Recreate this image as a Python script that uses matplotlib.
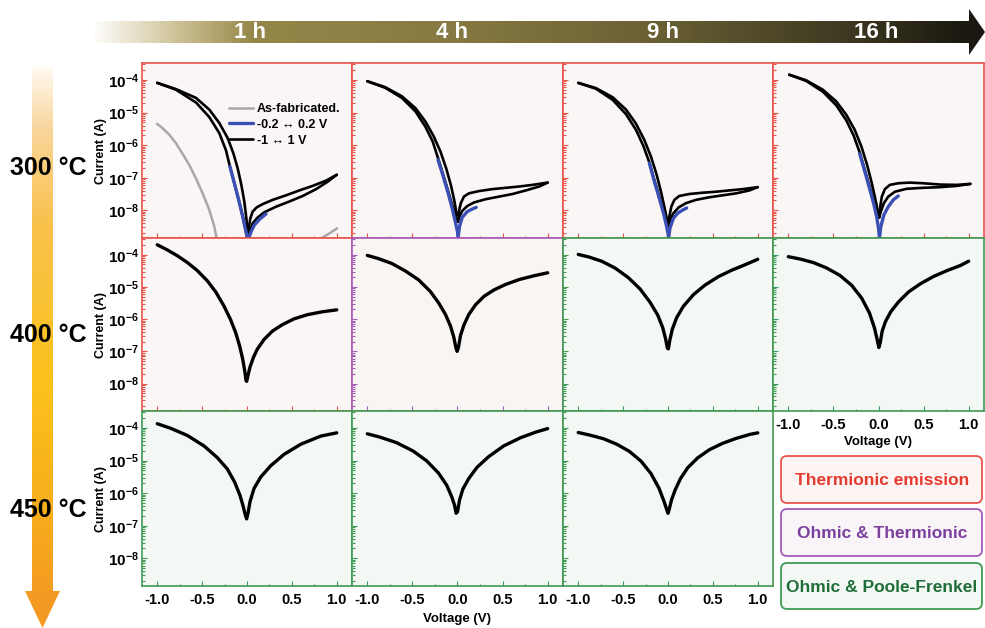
import numpy as np
import matplotlib
matplotlib.use("Agg")
import matplotlib.pyplot as plt
from matplotlib.colors import LinearSegmentedColormap
from matplotlib.patches import FancyBboxPatch, Polygon
from matplotlib.ticker import FixedLocator, FuncFormatter, LogLocator, NullFormatter

plt.rcParams['font.family'] = ['Liberation Sans', 'DejaVu Sans']
plt.rcParams['font.weight'] = 'bold'
plt.rcParams['mathtext.fontset'] = 'custom'
plt.rcParams['mathtext.bf'] = 'Liberation Sans:bold'
plt.rcParams['mathtext.rm'] = 'Liberation Sans:bold'
plt.rcParams['axes.unicode_minus'] = False

# ---------------- labels ----------------
times = ['1 h', '4 h', '9 h', '16 h']
temps = ['300 °C', '400 °C', '450 °C']
mechanisms = ['Thermionic emission', 'Ohmic & Thermionic', 'Ohmic & Poole-Frenkel']
# mechanism class of each panel: 0 thermionic, 1 ohmic&thermionic, 2 ohmic&poole-frenkel, -1 none
panel_class = [[0, 0, 0, 0],
               [0, 1, 2, 2],
               [2, 2, 2, -1]]
xticks = [-1.0, -0.5, 0.0, 0.5, 1.0]
xticklabels = ['-1.0', '-0.5', '0.0', '0.5', '1.0']
ydecades = [-8, -7, -6, -5, -4]

# ---------------- data: voltage (V) and log10(current / A) ----------------
# 300 C, 1 h
r1c1_outer_V = [-1.0, -0.792, -0.569, -0.42, -0.309, -0.216, -0.152, -0.104, -0.063, -0.030, -0.007, 0.007, 0.015]
r1c1_outer_L = [-4.09, -4.28, -4.55, -4.91, -5.32, -5.78, -6.25, -6.71, -7.22, -7.73, -8.25, -8.71, -8.86]
r1c1_inner_V = [-1.0, -0.792, -0.569, -0.42, -0.309, -0.234, -0.190, -0.141, -0.093, -0.048, -0.011, 0.004]
r1c1_inner_L = [-4.09, -4.30, -4.69, -5.14, -5.63, -6.16, -6.66, -7.17, -7.68, -8.19, -8.66, -8.86]
r1c1_up_V = [0.011, 0.022, 0.037, 0.063, 0.108, 0.175, 0.286, 0.435, 0.584, 0.732, 0.881, 1.0]
r1c1_up_L = [-8.81, -8.50, -8.25, -8.04, -7.91, -7.81, -7.68, -7.54, -7.39, -7.25, -7.09, -6.91]
r1c1_lo_V = [0.019, 0.033, 0.063, 0.119, 0.193, 0.323, 0.472, 0.621, 0.770, 0.9, 1.0]
r1c1_lo_L = [-8.81, -8.66, -8.40, -8.22, -8.06, -7.89, -7.73, -7.56, -7.35, -7.12, -6.91]
r1c1_bneg_V = [-0.190, -0.141, -0.093, -0.048, -0.011, 0.004]
r1c1_bneg_L = [-6.66, -7.17, -7.68, -8.19, -8.66, -8.86]
r1c1_bpos_V = [0.019, 0.045, 0.082, 0.138, 0.212]
r1c1_bpos_L = [-8.86, -8.66, -8.45, -8.28, -8.11]
r1c1_gneg_V = [-1.0, -0.941, -0.866, -0.792, -0.717, -0.643, -0.569, -0.494, -0.42, -0.364, -0.338]
r1c1_gneg_L = [-5.35, -5.48, -5.68, -5.94, -6.27, -6.61, -7.02, -7.48, -7.99, -8.50, -8.86]
r1c1_gpos_V = [0.825, 0.918, 1.0]
r1c1_gpos_L = [-8.86, -8.71, -8.56]

# 300 C, 4 h
r1c2_outer_V = [-1.0, -0.803, -0.617, -0.468, -0.357, -0.264, -0.190, -0.126, -0.074, -0.037, -0.011, 0.004]
r1c2_outer_L = [-4.04, -4.22, -4.50, -4.86, -5.27, -5.73, -6.19, -6.71, -7.22, -7.68, -8.09, -8.35]
r1c2_inner_V = [-1.0, -0.803, -0.617, -0.468, -0.357, -0.275, -0.216, -0.164, -0.108, -0.059, -0.022, 0.004]
r1c2_inner_L = [-4.04, -4.24, -4.55, -4.96, -5.43, -5.89, -6.40, -6.86, -7.37, -7.83, -8.14, -8.35]
r1c2_up_V = [0.004, 0.015, 0.037, 0.071, 0.126, 0.238, 0.387, 0.535, 0.684, 0.833, 1.0]
r1c2_up_L = [-8.35, -8.04, -7.78, -7.58, -7.48, -7.41, -7.35, -7.31, -7.27, -7.22, -7.15]
r1c2_lo_V = [0.004, 0.022, 0.052, 0.108, 0.182, 0.312, 0.461, 0.610, 0.758, 0.907, 1.0]
r1c2_lo_L = [-8.35, -8.19, -8.02, -7.87, -7.76, -7.66, -7.58, -7.50, -7.39, -7.27, -7.15]
r1c2_bneg_V = [-0.216, -0.164, -0.108, -0.059, -0.022, 0.0, 0.007]
r1c2_bneg_L = [-6.45, -6.91, -7.43, -7.94, -8.38, -8.66, -8.85]
r1c2_bpos_V = [0.007, 0.022, 0.052, 0.108, 0.164, 0.208]
r1c2_bpos_L = [-8.83, -8.50, -8.22, -8.04, -7.96, -7.91]

# 300 C, 9 h
r1c3_outer_V = [-1.0, -0.803, -0.617, -0.468, -0.357, -0.264, -0.190, -0.126, -0.074, -0.037, -0.011, 0.004]
r1c3_outer_L = [-4.09, -4.25, -4.53, -4.91, -5.34, -5.84, -6.35, -6.91, -7.48, -7.94, -8.28, -8.50]
r1c3_inner_V = [-1.0, -0.803, -0.617, -0.468, -0.357, -0.275, -0.208, -0.152, -0.097, -0.052, -0.019, 0.004]
r1c3_inner_L = [-4.09, -4.27, -4.61, -5.05, -5.53, -6.02, -6.53, -7.07, -7.58, -8.02, -8.35, -8.50]
r1c3_up_V = [0.004, 0.015, 0.037, 0.071, 0.126, 0.238, 0.387, 0.535, 0.684, 0.833, 1.0]
r1c3_up_L = [-8.50, -8.19, -7.89, -7.68, -7.56, -7.50, -7.46, -7.43, -7.39, -7.35, -7.29]
r1c3_lo_V = [0.004, 0.022, 0.060, 0.119, 0.201, 0.312, 0.461, 0.610, 0.758, 0.907, 1.0]
r1c3_lo_L = [-8.50, -8.30, -8.09, -7.91, -7.78, -7.68, -7.60, -7.54, -7.48, -7.39, -7.29]
r1c3_bneg_V = [-0.208, -0.152, -0.097, -0.052, -0.019, 0.0, 0.007]
r1c3_bneg_L = [-6.55, -7.12, -7.63, -8.07, -8.45, -8.71, -8.85]
r1c3_bpos_V = [0.007, 0.022, 0.060, 0.108, 0.164, 0.208]
r1c3_bpos_L = [-8.85, -8.55, -8.25, -8.09, -7.99, -7.93]

# 300 C, 16 h
r1c4_outer_V = [-0.989, -0.803, -0.617, -0.468, -0.357, -0.264, -0.190, -0.126, -0.074, -0.037, -0.011, 0.007]
r1c4_outer_L = [-3.84, -4.01, -4.30, -4.66, -5.07, -5.53, -6.04, -6.61, -7.17, -7.63, -7.99, -8.22]
r1c4_inner_V = [-0.989, -0.803, -0.617, -0.468, -0.357, -0.275, -0.208, -0.152, -0.097, -0.052, -0.019, 0.007]
r1c4_inner_L = [-3.84, -4.03, -4.36, -4.78, -5.24, -5.71, -6.23, -6.76, -7.29, -7.73, -8.04, -8.22]
r1c4_up_V = [0.007, 0.019, 0.037, 0.071, 0.126, 0.219, 0.349, 0.498, 0.684, 0.870, 1.019]
r1c4_up_L = [-8.22, -7.89, -7.58, -7.35, -7.22, -7.17, -7.15, -7.17, -7.21, -7.22, -7.19]
r1c4_lo_V = [0.007, 0.026, 0.060, 0.108, 0.182, 0.312, 0.498, 0.684, 0.870, 1.019]
r1c4_lo_L = [-8.22, -8.04, -7.78, -7.58, -7.43, -7.34, -7.31, -7.29, -7.25, -7.19]
r1c4_bneg_V = [-0.208, -0.152, -0.097, -0.052, -0.019, 0.0, 0.011]
r1c4_bneg_L = [-6.27, -6.81, -7.35, -7.81, -8.22, -8.55, -8.85]
r1c4_bpos_V = [0.011, 0.026, 0.060, 0.108, 0.164, 0.219]
r1c4_bpos_L = [-8.85, -8.50, -8.14, -7.89, -7.68, -7.56]

# 400 C
r2c1_V = [-1.0, -0.888, -0.777, -0.665, -0.554, -0.442, -0.349, -0.257, -0.182, -0.126, -0.082, -0.048,
          -0.026, -0.011, -0.004, 0.011, 0.033, 0.071, 0.115, 0.190, 0.283, 0.394, 0.524, 0.673, 0.840, 1.0]
r2c1_L = [-3.69, -3.85, -4.03, -4.24, -4.49, -4.81, -5.15, -5.59, -6.02, -6.42, -6.83, -7.24,
          -7.59, -7.90, -7.93, -7.75, -7.49, -7.19, -6.93, -6.63, -6.37, -6.17, -5.99, -5.86, -5.77, -5.71]
r2c2_V = [-1.0, -0.877, -0.729, -0.580, -0.431, -0.301, -0.208, -0.134, -0.078, -0.041, -0.019, -0.004,
          0.011, 0.033, 0.071, 0.126, 0.201, 0.294, 0.405, 0.535, 0.684, 0.851, 1.0]
r2c2_L = [-4.02, -4.12, -4.27, -4.50, -4.78, -5.14, -5.50, -5.85, -6.21, -6.56, -6.87, -7.0,
          -6.87, -6.51, -6.18, -5.85, -5.55, -5.29, -5.09, -4.92, -4.77, -4.65, -4.56]
r2c3_V = [-1.0, -0.881, -0.740, -0.591, -0.442, -0.312, -0.201, -0.115, -0.059, -0.026, -0.007, 0.004,
          0.019, 0.048, 0.097, 0.171, 0.283, 0.413, 0.561, 0.710, 0.859, 1.0]
r2c3_L = [-3.99, -4.07, -4.20, -4.41, -4.71, -5.06, -5.47, -5.87, -6.26, -6.62, -6.90, -6.92,
          -6.67, -6.31, -5.95, -5.60, -5.24, -4.94, -4.68, -4.48, -4.31, -4.14]
r2c4_V = [-1.0, -0.874, -0.725, -0.576, -0.428, -0.297, -0.186, -0.100, -0.045, -0.015, 0.004,
          0.019, 0.041, 0.078, 0.138, 0.223, 0.335, 0.465, 0.613, 0.762, 0.911, 1.0]
r2c4_L = [-4.06, -4.13, -4.24, -4.41, -4.64, -4.95, -5.35, -5.81, -6.27, -6.63, -6.88,
          -6.73, -6.37, -6.07, -5.76, -5.46, -5.15, -4.90, -4.67, -4.49, -4.33, -4.20]

# 450 C
r3c1_V = [-1.0, -0.851, -0.665, -0.480, -0.331, -0.219, -0.138, -0.078, -0.041, -0.019, -0.004,
          0.011, 0.033, 0.078, 0.152, 0.264, 0.413, 0.599, 0.822, 1.0]
r3c1_L = [-3.87, -4.01, -4.23, -4.55, -4.91, -5.26, -5.66, -6.07, -6.42, -6.67, -6.79,
          -6.62, -6.27, -5.86, -5.51, -5.16, -4.81, -4.50, -4.25, -4.15]
r3c2_V = [-1.0, -0.862, -0.677, -0.491, -0.342, -0.212, -0.119, -0.063, -0.033, -0.015, 0.0,
          0.022, 0.059, 0.123, 0.216, 0.346, 0.513, 0.699, 0.866, 1.0]
r3c2_L = [-4.18, -4.28, -4.45, -4.71, -5.01, -5.38, -5.76, -6.12, -6.37, -6.62, -6.57,
          -6.22, -5.88, -5.56, -5.21, -4.88, -4.55, -4.30, -4.13, -4.02]
r3c3_V = [-1.0, -0.87, -0.72, -0.57, -0.43, -0.3, -0.19, -0.1, -0.045, -0.015, 0.0,
          0.015, 0.04, 0.08, 0.14, 0.22, 0.33, 0.46, 0.61, 0.76, 0.91, 1.0]
r3c3_L = [-4.14, -4.22, -4.33, -4.5, -4.72, -5.02, -5.4, -5.85, -6.25, -6.5, -6.62,
          -6.48, -6.2, -5.9, -5.55, -5.22, -4.92, -4.67, -4.47, -4.32, -4.2, -4.15]

# ---------------- styles ----------------
W, H = 985, 628
edge_cols = ['#e8544a', '#a55ab8', '#3f9a52']
face_cols = ['#fbf6f6', '#f8f5f3', '#f3f8f5']
box_face = ['#fdf5f4', '#f8f4f8', '#f3f8f4']
text_cols = ['#e53a2f', '#7b3f9e', '#1f6d37']
col_left = [142, 352, 563, 773]
col_w = [210, 211, 210, 211]
row_top = [63, 238, 411]
row_h = [175, 173, 175]
YLO, YHI = -8.85, -3.48

fig = plt.figure(figsize=(W / 100, H / 100), dpi=100)
fig.patch.set_facecolor('white')

bg = fig.add_axes([0, 0, 1, 1], zorder=-5)
bg.set_xlim(0, W)
bg.set_ylim(H, 0)
bg.axis('off')

# top time arrow
hcmap = LinearSegmentedColormap.from_list('h', [
    (0.0, '#fcfbf7'), (0.09, '#cfc498'), (0.18, '#958749'), (0.4, '#877a42'),
    (0.64, '#6a6034'), (0.86, '#3e3921'), (1.0, '#1a1810')])
bg.imshow(np.linspace(0, 1, 600)[None, :], cmap=hcmap, aspect='auto',
          extent=[95, 970, 43, 21], interpolation='bilinear', zorder=1)
bg.add_patch(Polygon([(969, 9), (985, 32), (969, 55)], closed=True,
                     facecolor='#1a1810', edgecolor='none', zorder=2))
for t, x in zip(times, [250, 452, 663, 876]):
    bg.text(x, 32, t, color='white', fontsize=16, weight='bold',
            family=['Liberation Sans Narrow', 'Liberation Sans'],
            ha='center', va='center', zorder=3)

# left temperature arrow
vcmap = LinearSegmentedColormap.from_list('v', [
    (0.0, '#fffaf2'), (0.12, '#f9d59a'), (0.3, '#f9c14c'), (0.6, '#fbc21c'),
    (0.85, '#f8ad1c'), (1.0, '#f49c22')])
bg.imshow(np.linspace(0, 1, 600)[:, None], cmap=vcmap, aspect='auto',
          extent=[32, 53, 592, 66], interpolation='bilinear', zorder=1)
bg.add_patch(Polygon([(25, 591), (60, 591), (42.5, 628)], closed=True,
                     facecolor='#f49a22', edgecolor='none', zorder=2))
for t, y in zip(temps, [168, 335, 510]):
    bg.text(48, y, t, fontsize=18, weight='bold', color='black',
            ha='center', va='center', zorder=3)

# mechanism legend boxes
for i, (top, bot) in enumerate([(456, 503), (509, 556), (563, 609)]):
    bg.add_patch(FancyBboxPatch((781, top), 201, bot - top,
                                boxstyle='round,pad=0,rounding_size=6',
                                facecolor=box_face[i], edgecolor=edge_cols[i],
                                lw=1.3, zorder=2))
    bg.text(882, (top + bot) / 2 + 1, mechanisms[i], color=text_cols[i],
            fontsize=12.5, weight='bold', ha='center', va='center', zorder=3)


def P(L):
    return 10.0 ** np.asarray(L)


axes = {}
for r in range(3):
    for c in range(4):
        k = panel_class[r][c]
        if k < 0:
            continue
        rect = [col_left[c] / W, 1 - (row_top[r] + row_h[r]) / H, col_w[c] / W, row_h[r] / H]
        ax = fig.add_axes(rect)
        ax.set_facecolor(face_cols[k])
        ax.set_yscale('log')
        ax.set_xlim(-1.17, 1.17)
        ax.set_ylim(10 ** YLO, 10 ** YHI)
        for s in ax.spines.values():
            s.set_color(edge_cols[k])
            s.set_linewidth(1.2)
        ax.xaxis.set_major_locator(FixedLocator(xticks))
        ax.xaxis.set_minor_locator(FixedLocator([-0.75, -0.25, 0.25, 0.75]))
        ax.yaxis.set_major_locator(FixedLocator([10.0 ** d for d in ydecades]))
        ax.yaxis.set_minor_locator(LogLocator(base=10, subs=np.arange(2, 10)))
        ax.yaxis.set_minor_formatter(NullFormatter())
        ax.tick_params(which='both', direction='in', color=edge_cols[k], width=0.8,
                       labelsize=11, pad=2)
        ax.tick_params(which='major', length=3.5)
        ax.tick_params(which='minor', length=1.8)
        if c == 0:
            ax.yaxis.set_major_formatter(FuncFormatter(
                lambda v, p: '$\\mathbf{10^{%d}}$' % int(round(np.log10(v)))))
            ax.set_ylabel('Current (A)', fontsize=9, weight='bold', labelpad=1)
        else:
            ax.set_yticklabels([])
        if r == 2 or (r == 1 and c == 3):
            ax.set_xticklabels(xticklabels, fontsize=10.5, weight='bold')
            ax.tick_params(axis='x', pad=5)
        else:
            ax.set_xticklabels([])
        axes[(r, c)] = ax

blk = dict(color='black', lw=1.9, solid_capstyle='round', solid_joinstyle='round')
blu = dict(color='#3a50b4', lw=2.4, solid_capstyle='round', solid_joinstyle='round')

row1 = [
    (r1c1_outer_V, r1c1_outer_L, r1c1_inner_V, r1c1_inner_L, r1c1_up_V, r1c1_up_L,
     r1c1_lo_V, r1c1_lo_L, r1c1_bneg_V, r1c1_bneg_L, r1c1_bpos_V, r1c1_bpos_L),
    (r1c2_outer_V, r1c2_outer_L, r1c2_inner_V, r1c2_inner_L, r1c2_up_V, r1c2_up_L,
     r1c2_lo_V, r1c2_lo_L, r1c2_bneg_V, r1c2_bneg_L, r1c2_bpos_V, r1c2_bpos_L),
    (r1c3_outer_V, r1c3_outer_L, r1c3_inner_V, r1c3_inner_L, r1c3_up_V, r1c3_up_L,
     r1c3_lo_V, r1c3_lo_L, r1c3_bneg_V, r1c3_bneg_L, r1c3_bpos_V, r1c3_bpos_L),
    (r1c4_outer_V, r1c4_outer_L, r1c4_inner_V, r1c4_inner_L, r1c4_up_V, r1c4_up_L,
     r1c4_lo_V, r1c4_lo_L, r1c4_bneg_V, r1c4_bneg_L, r1c4_bpos_V, r1c4_bpos_L),
]
for c, d in enumerate(row1):
    ax = axes[(0, c)]
    (oV, oL, iV, iL, uV, uL, lV, lL, bnV, bnL, bpV, bpL) = d
    if c == 0:
        ax.plot(r1c1_gneg_V, P(r1c1_gneg_L), color='#a8a8a8', lw=1.8, label='As-fabricated.')
        ax.plot(r1c1_gpos_V, P(r1c1_gpos_L), color='#a8a8a8', lw=1.8)
    ax.plot(bnV, P(bnL), label='-0.2 \u2194 0.2 V', zorder=4, **blu)
    ax.plot(bpV, P(bpL), zorder=4, **blu)
    ax.plot(oV, P(oL), zorder=3, label='-1 \u2194 1 V', **blk)
    ax.plot(iV, P(iL), zorder=3, **blk)
    ax.plot(uV, P(uL), zorder=3, **blk)
    ax.plot(lV, P(lL), zorder=3, **blk)
    if c == 0:
        ax.legend(loc='upper left', bbox_to_anchor=(0.39, 0.80), frameon=False,
                  prop=dict(size=9, weight='bold', family=['Liberation Sans', 'DejaVu Sans']),
                  handlelength=1.9, handletextpad=0.35, labelspacing=0.3,
                  borderaxespad=0)

for (r, c), (V, L) in {(1, 0): (r2c1_V, r2c1_L), (1, 1): (r2c2_V, r2c2_L),
                       (1, 2): (r2c3_V, r2c3_L), (1, 3): (r2c4_V, r2c4_L),
                       (2, 0): (r3c1_V, r3c1_L), (2, 1): (r3c2_V, r3c2_L),
                       (2, 2): (r3c3_V, r3c3_L)}.items():
    axes[(r, c)].plot(V, P(L), color='black', lw=2.4, solid_capstyle='round',
                      solid_joinstyle='round')

axes[(1, 3)].set_xlabel('Voltage (V)', fontsize=9.5, weight='bold', labelpad=3)
bg.text(457, 619, 'Voltage (V)', fontsize=9.5, weight='bold', ha='center', va='center')

fig.savefig('out.png', dpi=100, facecolor='white')
